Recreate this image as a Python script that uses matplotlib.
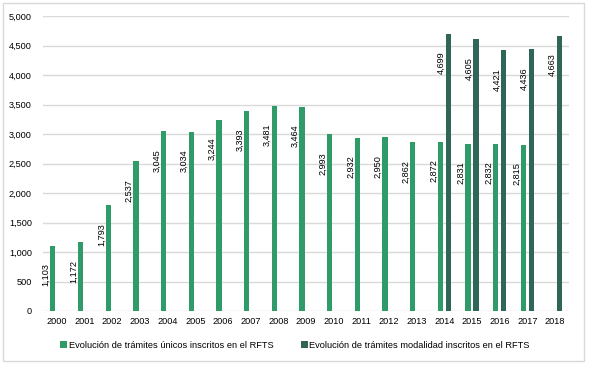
import matplotlib
matplotlib.use("Agg")
import matplotlib.pyplot as plt
from matplotlib.patches import Rectangle
import numpy as np

plt.rcParams['font.family'] = ['Liberation Sans', 'DejaVu Sans']

years = ['2000', '2001', '2002', '2003', '2004', '2005', '2006', '2007', '2008', '2009',
         '2010', '2011', '2012', '2013', '2014', '2015', '2016', '2017', '2018']
unicos = [1103, 1172, 1793, 2537, 3045, 3034, 3244, 3393, 3481, 3464,
          2993, 2932, 2950, 2862, 2872, 2831, 2832, 2815, np.nan]
modalidad = [np.nan] * 14 + [4699, 4605, 4421, 4436, 4663]
series_names = ['Evolución de trámites únicos inscritos en el RFTS',
                'Evolución de trámites modalidad inscritos en el RFTS']
yticks = [0, 500, 1000, 1500, 2000, 2500, 3000, 3500, 4000, 4500, 5000]

c1 = '#2E9B68'
c2 = '#2F6658'

fig = plt.figure(figsize=(5.9, 3.68), dpi=100)
fig.patches.append(Rectangle((3/590, 1 - 361/368), 581/590, 358/368, transform=fig.transFigure,
                             fill=False, edgecolor='#D9D9D9', linewidth=1.0))
ax = fig.add_axes([43/590, 1 - 311/368, 526/590, 295/368])

x = np.arange(len(years))
off = 0.145
w = 0.19
ax.bar(x - off, unicos, width=w, color=c1, label=series_names[0], zorder=3)
ax.bar(x + off, modalidad, width=w, color=c2, label=series_names[1], zorder=3)

lab_dx = 0.25
lab_dy = 300
for xi, v in zip(x, unicos):
    if not np.isnan(v):
        ax.text(xi - off - lab_dx, v - lab_dy, f'{int(v):,}', rotation=90, ha='center', va='top',
                fontsize=6.6, color='#000000', zorder=4)
for xi, v in zip(x, modalidad):
    if not np.isnan(v):
        ax.text(xi + off - lab_dx, v - lab_dy, f'{int(v):,}', rotation=90, ha='center', va='top',
                fontsize=6.6, color='#000000', zorder=4)

ax.set_xlim(-0.5, len(years) - 0.5)
ax.set_ylim(0, 5000)
ax.set_yticks(yticks)
ax.set_yticklabels([f'{t:,}' for t in yticks])
ax.set_xticks(x)
ax.set_xticklabels(years)
ax.tick_params(axis='both', length=0, labelsize=6.6, colors='#000000')
ax.tick_params(axis='y', pad=8)
ax.tick_params(axis='x', pad=4)
ax.yaxis.grid(True, color='#D9D9D9', linewidth=1.0, zorder=0)
ax.set_axisbelow(True)
for s in ax.spines.values():
    s.set_visible(False)

handles, labels = ax.get_legend_handles_labels()
fig.legend(handles, labels, ncol=2, loc='center', bbox_to_anchor=(0.5, 1 - 345/368),
           frameon=False, fontsize=6.7, handlelength=0.7, handleheight=0.7,
           handletextpad=0.2, columnspacing=3.0)

fig.savefig('out.png', dpi=100)
